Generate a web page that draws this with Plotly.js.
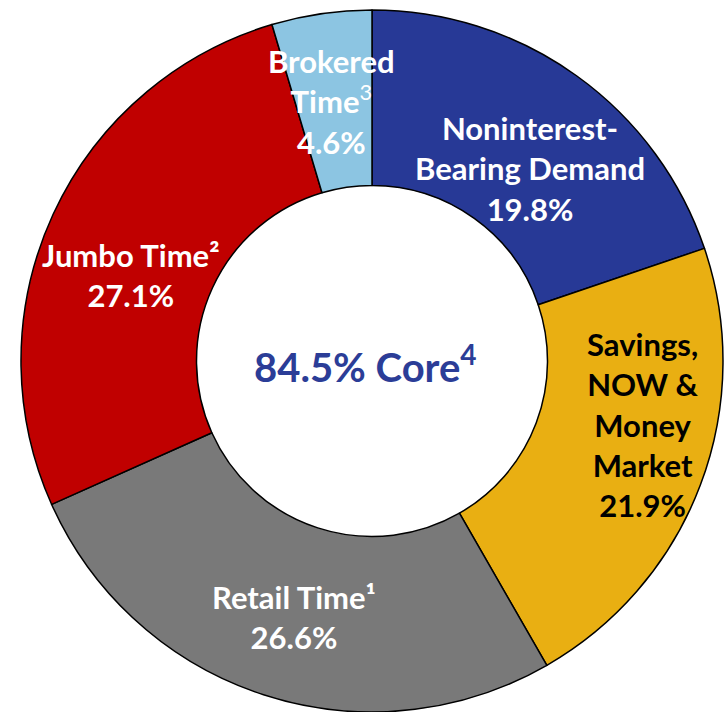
<!DOCTYPE html>
<html>
<head>
<meta charset="utf-8">
<script src="https://cdn.plot.ly/plotly-3.0.1.min.js"></script>
<style>html,body{margin:0;padding:0;background:#fff;}#chart{width:728px;height:712px;}</style>
</head>
<body>
<div id="chart"></div>
<script>
const categories = ["Noninterest-Bearing Demand", "Savings, NOW & Money Market", "Retail Time", "Jumbo Time", "Brokered Time"];
const values = [19.8, 21.9, 26.6, 27.1, 4.6];
const labelTexts = [
  "Noninterest-<br>Bearing Demand<br>19.8%",
  "Savings,<br>NOW &<br>Money<br>Market<br>21.9%",
  "Retail Time¹<br>26.6%",
  "Jumbo Time²<br>27.1%",
  "Brokered<br>Time<span style='font-weight:normal'><sup>3</sup></span><br>4.6%"
];
const centerText = "84.5% Core<sup>4</sup>";
const colors = ["#273996", "#E9AF12", "#797979", "#C00000", "#8CC5E2"];
const labelColors = ["#FFFFFF", "#000000", "#FFFFFF", "#FFFFFF", "#FFFFFF"];

const W = 728, H = 712;
const px = x => x / W;
const py = y => 1 - y / H;
const labelPos = [[530, 168], [643, 424], [294, 617], [131, 275], [331, 102]];

const FONT = "Lato, 'Open Sans', sans-serif";
const annotations = labelTexts.map((t, i) => ({
  text: "<b>" + t + "</b>",
  x: px(labelPos[i][0]), y: py(labelPos[i][1]),
  xref: "paper", yref: "paper", showarrow: false,
  xanchor: "center", yanchor: "middle", align: "center",
  font: {family: FONT, size: 31, color: labelColors[i]}
}));
annotations.push({
  text: "<b>" + centerText + "</b>",
  x: px(365), y: py(364), xref: "paper", yref: "paper", showarrow: false,
  xanchor: "center", yanchor: "middle",
  font: {family: FONT, size: 40, color: "#2B3D97"}
});

const trace = {
  type: "pie",
  labels: categories,
  values: values,
  sort: false,
  direction: "clockwise",
  rotation: 0,
  hole: 0.5,
  textinfo: "none",
  hoverinfo: "label+percent",
  marker: {colors: colors, line: {color: "#000000", width: 1.5}},
  domain: {x: [21 / W, 723 / W], y: [0, 1 - 10 / H]}
};

Plotly.newPlot("chart", [trace], {
  width: W, height: H,
  margin: {l: 0, r: 0, t: 0, b: 0},
  showlegend: false,
  paper_bgcolor: "#FFFFFF",
  annotations: annotations
}, {displayModeBar: false, staticPlot: true});
</script>
</body>
</html>
